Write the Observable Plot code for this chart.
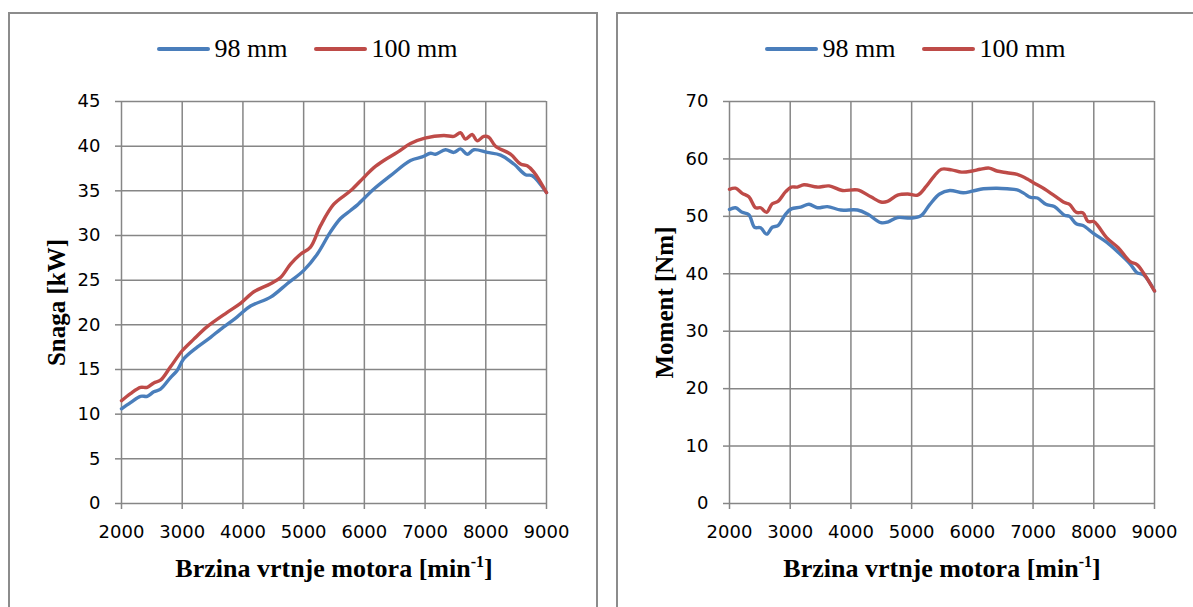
<!DOCTYPE html>
<html>
<head>
<meta charset="utf-8">
<script src="https://cdn.jsdelivr.net/npm/d3@7"></script>
<script src="https://cdn.jsdelivr.net/npm/@observablehq/plot@0.6"></script>
<style>
  html, body { margin: 0; padding: 0; background: #fff; }
  body { width: 1193px; height: 607px; overflow: hidden; position: relative; }
  .panel { position: absolute; top: 12px; width: 590px; height: 640px; box-sizing: border-box;
           border: 2px solid #8c8c8c; background: #fff; }
  .legend { height: 70px; display: flex; justify-content: center; align-items: center;
            padding-left: 8px; box-sizing: border-box;
            font-family: "Liberation Serif", "Times New Roman", serif; font-size: 26px; color: #000; }
  .sw { display: inline-block; width: 53px; height: 4px; border-radius: 2px; margin-right: 5px; }
  .item { display: flex; align-items: center; }
  .item + .item { margin-left: 26px; }
  .panel svg { display: block; }
</style>
</head>
<body>
<div id="left" class="panel" style="left:8px"></div>
<div id="right" class="panel" style="left:616px"></div>
<script>
// ---- series / legend ----
const seriesNames = ["98 mm", "100 mm"];
const seriesColors = ["#4A7EBB", "#BE4B48"];

// ---- x axis (engine speed) ----
const xTicks = [2000, 3000, 4000, 5000, 6000, 7000, 8000, 9000];
const xLabel = "Brzina vrtnje motora [min-1]";

// ---- left chart: power (Snaga) ----
const powerTicks = [0, 5, 10, 15, 20, 25, 30, 35, 40, 45];
const powerLabel = "Snaga [kW]";
const rpmP98 = [2000,2148,2313,2423,2532,2642,2807,2917,3027,3247,3467,3631,3906,4125,4455,4729,5003,5223,5442,5607,5772,5882,6157,6431,6760,6953,7090,7172,7337,7474,7584,7694,7804,8024,8243,8463,8655,8765,9000];
const power98 = [10.6,11.3,12.0,12.0,12.5,12.8,14.1,14.9,16.2,17.5,18.6,19.5,20.9,22.1,23.1,24.6,26.1,27.9,30.4,31.9,32.8,33.4,35.2,36.7,38.4,38.8,39.2,39.1,39.6,39.3,39.7,39.1,39.6,39.3,39.0,38.0,36.8,36.7,34.8];
const rpmP100 = [2000,2148,2313,2423,2532,2642,2807,3000,3191,3412,3741,3960,4180,4455,4619,4784,4948,5113,5278,5497,5772,5992,6157,6321,6541,6760,6996,7309,7474,7584,7666,7776,7859,7968,8050,8160,8407,8572,8682,8792,9000];
const power100 = [11.5,12.3,13.0,13.0,13.5,13.8,15.3,17.1,18.4,19.8,21.4,22.4,23.7,24.6,25.3,26.8,27.9,28.7,31.1,33.5,35.0,36.5,37.6,38.4,39.3,40.3,40.9,41.2,41.1,41.5,40.8,41.3,40.6,41.1,41.0,40.0,39.1,38.0,37.8,37.1,34.8];

// ---- right chart: torque (Moment) ----
const torqueTicks = [0, 10, 20, 30, 40, 50, 60, 70];
const torqueLabel = "Moment [Nm]";
const rpmT98 = [2000,2099,2209,2319,2413,2512,2611,2704,2798,2925,3018,3172,3310,3447,3612,3833,4108,4273,4493,4603,4768,4988,5153,5294,5461,5628,5850,6000,6183,6406,6572,6739,6850,6961,7072,7211,7350,7517,7600,7711,7822,8000,8211,8406,8600,8711,8822,9000];
const torque98 = [51.2,51.5,50.7,50.3,48.1,48.0,46.9,48.1,48.4,50.4,51.3,51.6,52.1,51.5,51.7,51.1,51.1,50.4,48.9,49.0,49.8,49.7,50.1,52.0,53.9,54.5,54.1,54.4,54.8,54.9,54.8,54.6,54.0,53.3,53.2,52.1,51.7,50.2,50.0,48.7,48.4,47.0,45.5,43.7,41.7,40.2,39.8,37.0];
const rpmT100 = [2000,2099,2209,2319,2429,2512,2611,2704,2798,2925,3018,3117,3227,3447,3640,3860,4108,4328,4493,4603,4768,4933,5098,5239,5378,5489,5656,5822,6000,6128,6278,6406,6572,6739,6906,7000,7183,7350,7517,7600,7711,7822,7906,8000,8072,8211,8406,8600,8711,8822,9000];
const torque100 = [54.7,54.9,54.0,53.4,51.5,51.5,50.7,52.2,52.6,54.3,55.1,55.1,55.5,55.1,55.3,54.5,54.6,53.4,52.5,52.6,53.7,53.9,53.7,55.2,57.1,58.2,58.1,57.7,57.9,58.2,58.4,57.9,57.6,57.3,56.5,55.9,54.8,53.6,52.4,52.1,50.7,50.6,49.1,49.1,48.3,46.3,44.5,42.1,41.6,40.1,37.0];

const GRID = "#868686";

function rows(rpm, vals, name) {
  return rpm.map((r, i) => ({rpm: r, v: vals[i], s: name}));
}

function legend(el) {
  const lg = document.createElement("div");
  lg.className = "legend";
  seriesNames.forEach((n, i) => {
    const it = document.createElement("div");
    it.className = "item";
    const sw = document.createElement("span");
    sw.className = "sw";
    sw.style.background = seriesColors[i];
    const tx = document.createElement("span");
    tx.textContent = n;
    it.appendChild(sw); it.appendChild(tx);
    lg.appendChild(it);
  });
  el.appendChild(lg);
}

function styleLabels(svg, yLabel) {
  svg.querySelectorAll("text").forEach(t => {
    const s = t.textContent;
    const serif = "'Liberation Serif', 'Times New Roman', serif";
    if (s.includes("Brzina")) {
      t.setAttribute("font-family", serif);
      t.setAttribute("font-weight", "bold");
      t.setAttribute("font-size", "26");
      t.setAttribute("fill", "#000");
      while (t.firstChild) t.removeChild(t.firstChild);
      const ns = "http://www.w3.org/2000/svg";
      const a = document.createElementNS(ns, "tspan");
      a.textContent = "Brzina vrtnje motora [min";
      const b = document.createElementNS(ns, "tspan");
      b.textContent = "-1";
      b.setAttribute("font-size", "16");
      b.setAttribute("dy", "-10");
      const c = document.createElementNS(ns, "tspan");
      c.textContent = "]";
      c.setAttribute("dy", "10");
      t.appendChild(a); t.appendChild(b); t.appendChild(c);
    } else if (s.includes(yLabel)) {
      t.setAttribute("font-family", serif);
      t.setAttribute("font-weight", "bold");
      t.setAttribute("font-size", "25");
      t.setAttribute("fill", "#000");
      t.textContent = yLabel;
    }
  });
}

function chart(el, yTicks, yLabel, data) {
  legend(el);
  const lines = [];
  data.forEach((d, i) => {
    lines.push(Plot.line(d, {x: "rpm", y: "v", stroke: seriesColors[i], strokeWidth: 3.4,
      curve: "catmull-rom", strokeLinejoin: "round", strokeLinecap: "round"}));
  });
  const svg = Plot.plot({
    width: 586,
    height: 523,
    marginLeft: 111,
    marginRight: 50,
    marginTop: 17,
    marginBottom: 104,
    style: {fontFamily: "'DejaVu Sans', sans-serif", fontSize: "18px", background: "transparent", overflow: "visible"},
    x: {domain: [xTicks[0], xTicks[xTicks.length - 1]]},
    y: {domain: [yTicks[0], yTicks[yTicks.length - 1]]},
    marks: [
      Plot.gridX(xTicks, {stroke: GRID, strokeOpacity: 1, strokeWidth: 1.5}),
      Plot.gridY(yTicks, {stroke: GRID, strokeOpacity: 1, strokeWidth: 1.5}),
      Plot.axisX({ticks: xTicks, tickSize: 6, tickPadding: 16, stroke: GRID, strokeWidth: 1.5, fill: "#000",
        fontSize: 18, tickFormat: d => String(d), label: xLabel, labelAnchor: "center", labelArrow: "none", labelOffset: 73}),
      Plot.axisY({ticks: yTicks, tickSize: 6, tickPadding: 15, stroke: GRID, strokeWidth: 1.5, fill: "#000",
        fontSize: 18, tickFormat: d => String(d), label: yLabel, labelAnchor: "center", labelArrow: "none", labelOffset: 74}),
      ...lines
    ]
  });
  styleLabels(svg, yLabel);
  el.appendChild(svg);
}

chart(document.getElementById("left"), powerTicks, powerLabel,
  [rows(rpmP98, power98, seriesNames[0]), rows(rpmP100, power100, seriesNames[1])]);
chart(document.getElementById("right"), torqueTicks, torqueLabel,
  [rows(rpmT98, torque98, seriesNames[0]), rows(rpmT100, torque100, seriesNames[1])]);
</script>
</body>
</html>
